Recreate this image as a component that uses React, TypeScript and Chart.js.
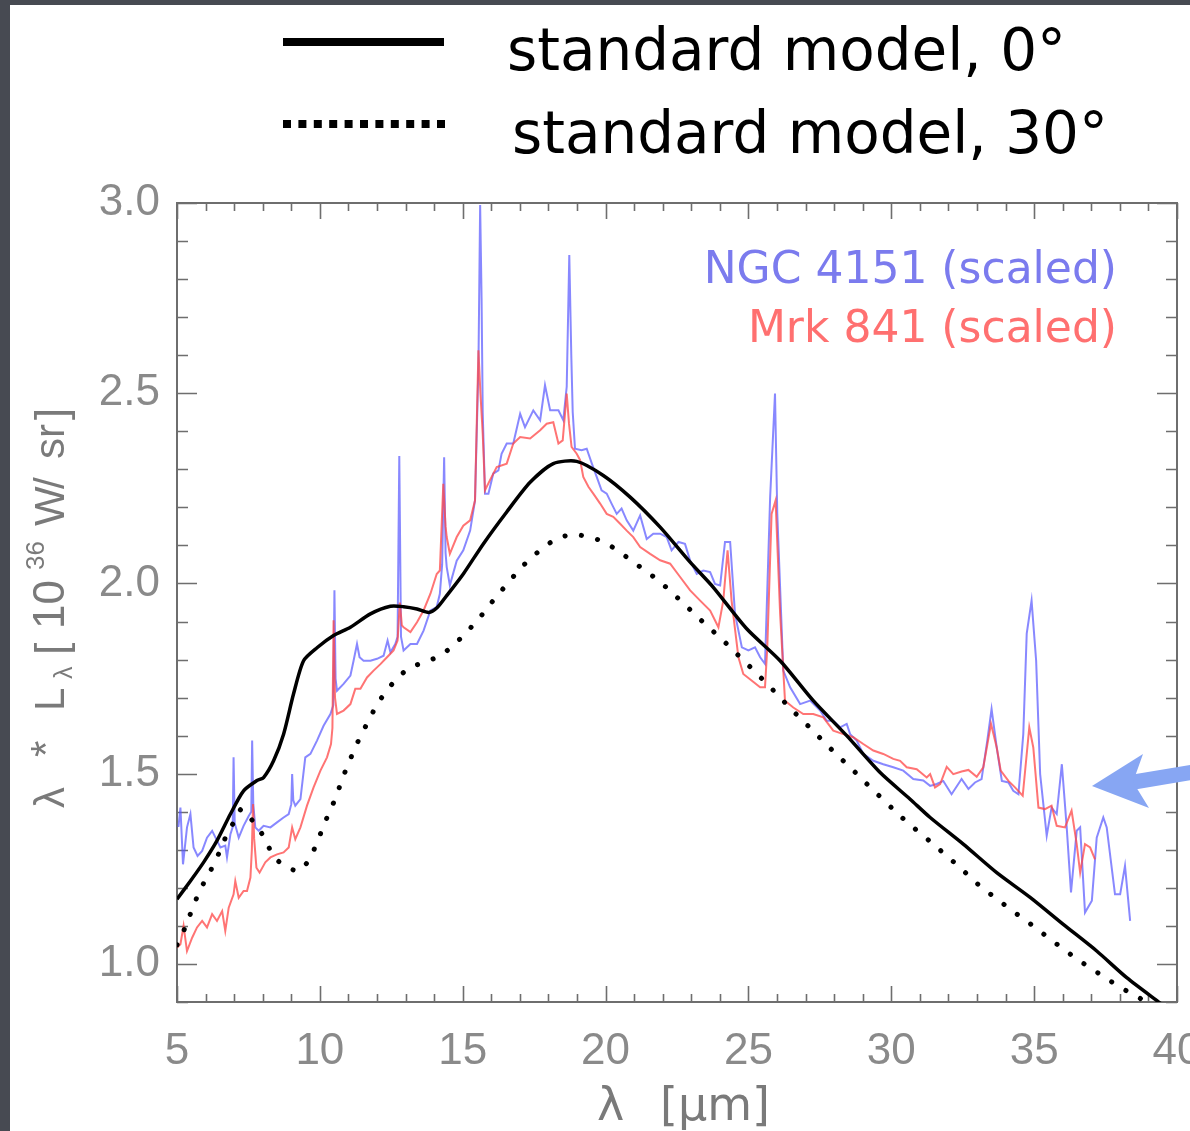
import React, { useEffect, useRef } from "react";
import { Chart, registerables } from "chart.js";

Chart.register(...registerables);

const W = 1190;
const H = 1131;

// ---- data ----
const model0Wave = [5.0, 5.47, 5.93, 6.4, 6.87, 7.33, 7.8, 8.03, 8.38, 8.73, 9.08, 9.43, 9.9, 10.48, 11.07, 11.77, 12.47, 12.93, 13.4, 13.81, 14.1, 14.44, 15.02, 15.72, 16.54, 17.36, 18.17, 18.99, 19.92, 20.86, 21.91, 22.96, 23.77, 24.94, 26.11, 27.27, 28.44, 29.61, 30.66, 31.36, 32.52, 33.69, 34.86, 36.02, 37.19, 38.24, 39.45];
const model0Flux = [1.17, 1.218, 1.267, 1.324, 1.394, 1.455, 1.482, 1.49, 1.534, 1.604, 1.71, 1.797, 1.831, 1.863, 1.885, 1.92, 1.94, 1.939, 1.933, 1.924, 1.936, 1.968, 2.025, 2.104, 2.188, 2.266, 2.315, 2.321, 2.284, 2.227, 2.148, 2.056, 1.99, 1.881, 1.797, 1.692, 1.6, 1.503, 1.433, 1.385, 1.315, 1.24, 1.175, 1.104, 1.034, 0.964, 0.895];

const model30Wave = [5.0, 5.28, 5.47, 5.68, 5.93, 6.2, 6.46, 6.69, 6.96, 7.25, 7.56, 7.91, 8.12, 8.4, 8.85, 9.31, 9.66, 9.9, 10.11, 10.34, 10.57, 10.76, 10.97, 11.2, 11.45, 11.72, 11.99, 12.32, 12.68, 13.13, 13.66, 14.21, 14.67, 15.08, 15.49, 15.84, 16.19, 16.6, 16.95, 17.36, 17.82, 18.29, 18.87, 19.43, 19.95, 20.45, 20.91, 21.38, 21.85, 22.31, 22.75, 23.17, 23.6, 24.03, 24.44, 24.86, 25.27, 25.68, 26.08, 26.49, 26.9, 27.31, 27.72, 28.13, 28.56, 28.97, 29.37, 30.4, 31.53, 32.0, 32.43, 32.87, 33.32, 33.77, 34.21, 34.7, 35.15, 35.62, 36.08, 36.55, 37.05, 37.52, 38.1, 38.7, 39.1];
const model30Flux = [1.05, 1.095, 1.132, 1.172, 1.212, 1.249, 1.29, 1.331, 1.369, 1.407, 1.384, 1.35, 1.321, 1.281, 1.253, 1.245, 1.279, 1.319, 1.359, 1.401, 1.439, 1.482, 1.521, 1.562, 1.603, 1.641, 1.681, 1.716, 1.749, 1.778, 1.793, 1.81, 1.837, 1.868, 1.901, 1.933, 1.967, 2.002, 2.034, 2.065, 2.094, 2.118, 2.129, 2.122, 2.109, 2.085, 2.06, 2.034, 2.008, 1.977, 1.946, 1.916, 1.885, 1.857, 1.826, 1.796, 1.765, 1.734, 1.703, 1.67, 1.64, 1.609, 1.578, 1.547, 1.517, 1.486, 1.457, 1.383, 1.311, 1.28, 1.252, 1.22, 1.192, 1.167, 1.141, 1.115, 1.089, 1.062, 1.036, 1.01, 0.986, 0.962, 0.935, 0.91, 0.89];

const ngcWave = [5.05, 5.12, 5.21, 5.35, 5.47, 5.58, 5.72, 5.88, 6.05, 6.23, 6.4, 6.52, 6.69, 6.75, 6.87, 6.95, 6.98, 7.02, 7.16, 7.33, 7.51, 7.6, 7.63, 7.67, 7.74, 7.86, 8.03, 8.27, 8.5, 8.73, 8.91, 9.0, 9.03, 9.07, 9.14, 9.32, 9.49, 9.67, 9.9, 10.13, 10.37, 10.47, 10.51, 10.55, 10.6, 10.83, 11.07, 11.18, 11.3, 11.39, 11.53, 11.77, 12.0, 12.23, 12.37, 12.47, 12.64, 12.72, 12.78, 12.84, 12.93, 13.17, 13.4, 13.63, 13.87, 14.09, 14.2, 14.28, 14.35, 14.4, 14.44, 14.55, 14.79, 15.02, 15.26, 15.43, 15.55, 15.61, 15.66, 15.7, 15.78, 15.9, 16.07, 16.25, 16.36, 16.54, 16.77, 17.01, 17.18, 17.47, 17.71, 17.88, 18.06, 18.35, 18.52, 18.64, 18.73, 18.8, 18.85, 18.93, 19.16, 19.34, 19.52, 19.69, 19.86, 20.04, 20.21, 20.39, 20.56, 20.74, 20.97, 21.21, 21.44, 21.67, 21.91, 22.14, 22.31, 22.55, 22.78, 22.96, 23.19, 23.42, 23.66, 23.83, 24.01, 24.18, 24.36, 24.53, 24.77, 25.0, 25.23, 25.41, 25.58, 25.76, 25.93, 26.01, 26.22, 26.46, 26.81, 27.16, 27.51, 27.74, 27.97, 28.21, 28.44, 28.56, 28.79, 29.02, 29.37, 29.72, 30.07, 30.42, 30.77, 31.12, 31.36, 31.59, 31.82, 32.11, 32.46, 32.7, 32.93, 33.16, 33.36, 33.51, 33.69, 33.87, 34.1, 34.27, 34.45, 34.62, 34.74, 34.91, 35.07, 35.21, 35.44, 35.61, 35.79, 35.97, 36.14, 36.29, 36.49, 36.61, 36.78, 37.02, 37.19, 37.42, 37.54, 37.83, 38.01, 38.18, 38.36];
const ngcFlux = [1.36, 1.411, 1.262, 1.359, 1.394, 1.306, 1.284, 1.297, 1.332, 1.35, 1.324, 1.306, 1.311, 1.28, 1.341, 1.36, 1.543, 1.37, 1.332, 1.363, 1.389, 1.4, 1.587, 1.42, 1.359, 1.35, 1.363, 1.359, 1.372, 1.385, 1.394, 1.42, 1.499, 1.43, 1.416, 1.433, 1.543, 1.552, 1.587, 1.626, 1.657, 1.68, 1.982, 1.75, 1.718, 1.736, 1.758, 1.797, 1.841, 1.806, 1.797, 1.797, 1.802, 1.81, 1.85, 1.819, 1.841, 1.86, 2.335, 1.86, 1.824, 1.841, 1.841, 1.876, 1.929, 1.938, 1.973, 2.05, 2.332, 2.08, 2.043, 1.995, 2.06, 2.087, 2.139, 2.218, 2.569, 2.995, 2.75, 2.45, 2.236, 2.236, 2.289, 2.297, 2.341, 2.368, 2.368, 2.446, 2.411, 2.455, 2.429, 2.521, 2.455, 2.455, 2.429, 2.517, 2.863, 2.6, 2.45, 2.354, 2.35, 2.354, 2.315, 2.28, 2.245, 2.236, 2.21, 2.183, 2.197, 2.166, 2.139, 2.179, 2.117, 2.131, 2.131, 2.122, 2.087, 2.109, 2.104, 2.06, 2.025, 2.034, 2.03, 1.999, 1.995, 2.109, 2.109, 1.92, 1.832, 1.824, 1.832, 1.806, 1.789, 2.227, 2.499, 2.183, 1.771, 1.727, 1.683, 1.692, 1.666, 1.639, 1.639, 1.622, 1.631, 1.604, 1.587, 1.552, 1.534, 1.525, 1.517, 1.508, 1.486, 1.482, 1.468, 1.473, 1.481, 1.446, 1.486, 1.46, 1.477, 1.486, 1.587, 1.67, 1.569, 1.481, 1.477, 1.455, 1.446, 1.604, 1.868, 1.955, 1.797, 1.499, 1.337, 1.411, 1.394, 1.525, 1.359, 1.188, 1.35, 1.359, 1.135, 1.166, 1.332, 1.385, 1.359, 1.183, 1.183, 1.258, 1.113];

const mrkWave = [5.0, 5.12, 5.23, 5.35, 5.53, 5.7, 5.88, 6.05, 6.23, 6.4, 6.58, 6.69, 6.81, 6.98, 7.04, 7.16, 7.33, 7.45, 7.57, 7.62, 7.66, 7.7, 7.78, 7.89, 8.09, 8.27, 8.5, 8.73, 8.91, 9.03, 9.14, 9.32, 9.55, 9.78, 10.02, 10.25, 10.39, 10.44, 10.48, 10.53, 10.6, 10.83, 11.07, 11.24, 11.42, 11.65, 11.88, 12.12, 12.35, 12.58, 12.72, 12.8, 12.87, 12.93, 13.17, 13.4, 13.63, 13.87, 14.09, 14.2, 14.32, 14.4, 14.44, 14.55, 14.79, 15.02, 15.26, 15.43, 15.55, 15.62, 15.7, 15.78, 15.95, 16.19, 16.54, 16.77, 17.01, 17.36, 17.71, 17.94, 18.17, 18.35, 18.5, 18.64, 18.72, 18.81, 18.99, 19.11, 19.22, 19.4, 19.57, 19.81, 20.04, 20.27, 20.51, 20.74, 20.97, 21.21, 21.56, 21.91, 22.26, 22.61, 22.96, 23.31, 23.66, 23.95, 24.12, 24.27, 24.41, 24.65, 24.82, 25.11, 25.41, 25.58, 25.66, 25.81, 25.95, 26.11, 26.28, 26.57, 26.92, 27.27, 27.62, 27.97, 28.32, 28.67, 29.02, 29.37, 29.72, 30.07, 30.31, 30.54, 30.89, 31.24, 31.36, 31.53, 31.71, 31.94, 32.17, 32.46, 32.7, 32.99, 33.22, 33.49, 33.69, 33.83, 34.1, 34.33, 34.6, 34.83, 34.97, 35.15, 35.38, 35.61, 35.79, 36.08, 36.31, 36.49, 36.61, 36.78, 36.96, 37.13];
const mrkFlux = [1.043, 1.052, 1.1, 1.034, 1.069, 1.096, 1.113, 1.096, 1.131, 1.113, 1.139, 1.087, 1.148, 1.183, 1.218, 1.174, 1.192, 1.192, 1.227, 1.3, 1.42, 1.33, 1.253, 1.24, 1.267, 1.28, 1.288, 1.293, 1.306, 1.359, 1.328, 1.359, 1.416, 1.464, 1.508, 1.543, 1.578, 1.62, 1.903, 1.7, 1.657, 1.666, 1.683, 1.723, 1.723, 1.753, 1.771, 1.788, 1.806, 1.824, 1.85, 1.95, 1.89, 1.885, 1.872, 1.898, 1.929, 1.973, 2.025, 2.034, 2.262, 2.15, 2.122, 2.078, 2.122, 2.152, 2.166, 2.218, 2.613, 2.5, 2.394, 2.245, 2.271, 2.306, 2.315, 2.368, 2.385, 2.381, 2.403, 2.42, 2.424, 2.368, 2.376, 2.499, 2.42, 2.359, 2.341, 2.324, 2.28, 2.254, 2.236, 2.21, 2.183, 2.175, 2.157, 2.139, 2.122, 2.096, 2.078, 2.061, 2.052, 2.017, 1.982, 1.955, 1.929, 1.885, 1.955, 2.087, 1.955, 1.806, 1.762, 1.745, 1.727, 1.727, 1.832, 2.183, 2.218, 1.92, 1.692, 1.674, 1.657, 1.657, 1.648, 1.613, 1.604, 1.596, 1.578, 1.561, 1.552, 1.539, 1.534, 1.517, 1.512, 1.49, 1.499, 1.464, 1.473, 1.518, 1.499, 1.506, 1.51, 1.492, 1.517, 1.631, 1.569, 1.508, 1.481, 1.464, 1.442, 1.622, 1.569, 1.411, 1.407, 1.416, 1.363, 1.359, 1.403, 1.315, 1.24, 1.315, 1.306, 1.275];

const xTickValues = [5, 10, 15, 20, 25, 30, 35, 40];
const yTickValues = [1.0, 1.5, 2.0, 2.5, 3.0];
const xRange = [5, 40];
const yRange = [0.9, 3.0];

const legendLabels = ["standard model, 0°", "standard model, 30°"];
const seriesLabels = ["NGC 4151 (scaled)", "Mrk 841 (scaled)"];
const xTitleParts = ["λ", "[μm]"];
// y-axis title pieces: text, screen y where the piece starts, size factor, baseline shift
const yTitleParts = [
  { t: "λ", at: 808, s: 1, d: 0 },
  { t: "*", at: 757, s: 1, d: -4 },
  { t: "L", at: 711, s: 1, d: 0 },
  { t: "λ", at: 679, s: 0.6, d: 8 },
  { t: "[", at: 655, s: 1.05, d: 2 },
  { t: "10", at: 629, s: 1.05, d: 0 },
  { t: "36", at: 570, s: 0.62, d: -20 },
  { t: "W", at: 526, s: 1, d: 0 },
  { t: "/", at: 489, s: 1, d: 0 },
  { t: "sr", at: 459, s: 1, d: 0 },
  { t: "]", at: 420, s: 1.05, d: 2 },
];

const zip = (xs: number[], ys: number[]) => xs.map((x, i) => ({ x, y: ys[i] }));

const TICK_FONT = '"Liberation Sans", Arial, sans-serif';
const GREY = "#8a8a8a";

const decorPlugin = {
  id: "decor",
  beforeDraw(chart: any) {
    const ctx = chart.ctx;
    ctx.save();
    ctx.fillStyle = "#474a52";
    ctx.fillRect(0, 0, W, H);
    ctx.fillStyle = "#ffffff";
    ctx.fillRect(10, 5, W - 10, H - 5);
    ctx.restore();
  },
  beforeDatasetsDraw(chart: any) {
    const ctx = chart.ctx;
    const { left, right, top, bottom } = chart.chartArea;
    const xs = chart.scales.x;
    const ys = chart.scales.y;
    ctx.save();
    ctx.strokeStyle = "#6e6e6e";
    ctx.lineWidth = 2;
    ctx.strokeRect(left, top, right - left, bottom - top);
    ctx.lineWidth = 1.6;
    ctx.beginPath();
    for (let v = 5; v <= 40; v++) {
      const px = Math.round(xs.getPixelForValue(v)) + 0.5;
      const len = v % 5 === 0 ? 16 : 8;
      ctx.moveTo(px, bottom);
      ctx.lineTo(px, bottom - len);
      ctx.moveTo(px, top);
      ctx.lineTo(px, top + len);
    }
    for (let i = 9; i <= 30; i++) {
      const py = Math.round(ys.getPixelForValue(i / 10)) + 0.5;
      const len = i % 5 === 0 ? 20 : 11;
      ctx.moveTo(left, py);
      ctx.lineTo(left + len, py);
      ctx.moveTo(right, py);
      ctx.lineTo(right - len, py);
    }
    ctx.stroke();
    ctx.restore();
  },
  afterDraw(chart: any) {
    const ctx = chart.ctx;
    const { right } = chart.chartArea;
    ctx.save();
    // top legend
    ctx.strokeStyle = "#000";
    ctx.lineWidth = 8;
    ctx.beginPath();
    ctx.moveTo(283, 42);
    ctx.lineTo(444, 42);
    ctx.stroke();
    ctx.setLineDash([8, 7.4]);
    ctx.beginPath();
    ctx.moveTo(283, 124);
    ctx.lineTo(446, 124);
    ctx.stroke();
    ctx.setLineDash([]);
    ctx.fillStyle = "#000";
    ctx.font = '58px "DejaVu Sans", sans-serif';
    ctx.textAlign = "left";
    ctx.textBaseline = "alphabetic";
    ctx.fillText(legendLabels[0], 507, 70);
    ctx.fillText(legendLabels[1], 512, 153);

    // series labels inside plot
    ctx.font = '44px "DejaVu Sans", sans-serif';
    ctx.textAlign = "right";
    ctx.fillStyle = "#7b7bee";
    ctx.fillText(seriesLabels[0], right - 60, 283);
    ctx.fillStyle = "#ff7070";
    ctx.fillText(seriesLabels[1], right - 60, 342);

    // x title
    ctx.fillStyle = "#7a7a7a";
    ctx.textAlign = "left";
    ctx.font = '46px "DejaVu Sans", sans-serif';
    ctx.fillText(xTitleParts[0], 597, 1120);
    ctx.fillText(xTitleParts[1], 660, 1120);

    // y title (rotated)
    const base = 42;
    for (const p of yTitleParts) {
      ctx.save();
      ctx.translate(64, p.at);
      ctx.rotate(-Math.PI / 2);
      ctx.font = `${base * p.s}px ${TICK_FONT}`;
      ctx.fillText(p.t, 0, p.d);
      ctx.restore();
    }
    ctx.restore();

    // arrow
    ctx.save();
    ctx.fillStyle = "#87a6f3";
    ctx.strokeStyle = "#87a6f3";
    ctx.lineWidth = 15;
    ctx.beginPath();
    ctx.moveTo(1128, 783);
    ctx.lineTo(1200, 771);
    ctx.stroke();
    ctx.beginPath();
    ctx.moveTo(1092, 786);
    ctx.lineTo(1143, 754);
    ctx.lineTo(1133, 782);
    ctx.lineTo(1149, 808);
    ctx.closePath();
    ctx.fill();
    ctx.restore();
  },
};

export default function App() {
  const ref = useRef<HTMLCanvasElement | null>(null);
  useEffect(() => {
    if (!ref.current) return;
    const chart = new Chart(ref.current, {
      type: "line",
      data: {
        datasets: [
          {
            label: legendLabels[0],
            data: zip(model0Wave, model0Flux),
            borderColor: "#000000",
            borderWidth: 3.5,
            pointRadius: 0,
            tension: 0.25,
            order: 0,
          },
          {
            label: legendLabels[1],
            data: zip(model30Wave, model30Flux),
            borderColor: "#000000",
            borderWidth: 5,
            borderDash: [0.1, 16.5],
            borderCapStyle: "round",
            pointRadius: 0,
            tension: 0.2,
            order: 1,
          },
          {
            label: seriesLabels[1],
            data: zip(mrkWave, mrkFlux),
            borderColor: "rgba(255,70,70,0.75)",
            borderWidth: 2,
            pointRadius: 0,
            tension: 0,
            order: 2,
          },
          {
            label: seriesLabels[0],
            data: zip(ngcWave, ngcFlux),
            borderColor: "rgba(85,85,255,0.7)",
            borderWidth: 2,
            pointRadius: 0,
            tension: 0,
            order: 3,
          },
        ] as any,
      },
      options: {
        responsive: false,
        animation: false,
        devicePixelRatio: 1,
        layout: { padding: { top: 203, right: 13, left: 0, bottom: 0 } },
        plugins: { legend: { display: false }, tooltip: { enabled: false } },
        scales: {
          x: {
            type: "linear",
            min: xRange[0],
            max: xRange[1],
            afterBuildTicks: (s: any) => {
              s.ticks = xTickValues.map((v) => ({ value: v }));
            },
            afterFit: (s: any) => {
              s.height = H - 1002;
              s.paddingLeft = 0;
              s.paddingRight = 0;
            },
            grid: { display: false, drawTicks: false },
            border: { display: false },
            ticks: {
              autoSkip: false,
              maxRotation: 0,
              minRotation: 0,
              padding: 23,
              color: GREY,
              font: { family: TICK_FONT, size: 44 },
              callback: (v: any) => String(v),
            },
          },
          y: {
            type: "linear",
            min: yRange[0],
            max: yRange[1],
            afterBuildTicks: (s: any) => {
              s.ticks = yTickValues.map((v) => ({ value: v }));
            },
            afterFit: (s: any) => {
              s.width = 177;
              s.paddingTop = 0;
              s.paddingBottom = 0;
            },
            grid: { display: false, drawTicks: false },
            border: { display: false },
            ticks: {
              autoSkip: false,
              padding: 17,
              color: GREY,
              font: { family: TICK_FONT, size: 44 },
              callback: (v: any) => Number(v).toFixed(1),
            },
          },
        },
      } as any,
      plugins: [decorPlugin],
    });
    return () => chart.destroy();
  }, []);
  return (
    <div style={{ position: "fixed", left: 0, top: 0, width: W, height: H }}>
      <canvas ref={ref} width={W} height={H} style={{ display: "block" }} />
    </div>
  );
}
